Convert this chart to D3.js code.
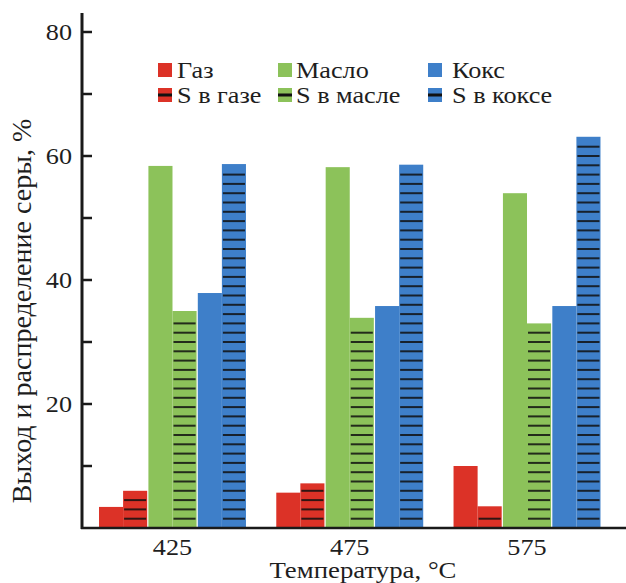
<!DOCTYPE html>
<html><head><meta charset="utf-8">
<script src="https://cdn.jsdelivr.net/npm/d3@7"></script>
<style>
body{margin:0;background:#fff;}
text{font-family:"Liberation Serif","Times New Roman",serif;fill:#1e1e1e;}
</style></head>
<body><svg id="c" width="626" height="583"></svg>
<script>
const temps = ["425","475","575"];
const materials = ["Газ","Масло","Кокс"];
const sLabels = ["S в газе","S в масле","S в коксе"];
const colors = ["#dc3227","#8cc25a","#3e7fc9"];
// yield values [Газ, Масло, Кокс] per temperature
const yieldVals = [[3.4, 58.4, 37.9],[5.7, 58.2, 35.8],[10.0, 54.0, 35.8]];
// sulfur distribution [S в газе, S в масле, S в коксе]
const sulfurVals = [[6.0, 35.0, 58.7],[7.2, 33.9, 58.6],[3.5, 33.0, 63.1]];
const yTicks = [0,20,40,60,80];
const yMinor = [10,30,50,70];
const stripeStep = 1.5;

const svg = d3.select("#c");
const STR = 1.14;
const y = d3.scaleLinear().domain([0,80]).range([528,32]);
const x0 = d3.scaleBand().domain(temps).range([82,617.5]).paddingInner(0.171).paddingOuter(0.096);
const x1 = d3.scaleBand().domain(materials).range([0,x0.bandwidth()]).paddingInner(0.025);

const g = svg.append("g");
temps.forEach((t,ti)=>{
  materials.forEach((m,mi)=>{
    const left = x0(t)+x1(m);
    const w = x1.bandwidth()/2;
    g.append("rect").attr("x",left).attr("y",y(yieldVals[ti][mi]))
      .attr("width",w).attr("height",y(0)-y(yieldVals[ti][mi])).attr("fill",colors[mi]);
    const v = sulfurVals[ti][mi];
    g.append("rect").attr("x",left+w).attr("y",y(v))
      .attr("width",w).attr("height",y(0)-y(v)).attr("fill",colors[mi]);
    const lines = d3.range(stripeStep, v-0.9, stripeStep);
    g.selectAll(null).data(lines).enter().append("line")
      .attr("x1",left+w+1).attr("x2",left+2*w-1)
      .attr("y1",d=>y(d)).attr("y2",d=>y(d))
      .attr("stroke","#111").attr("stroke-opacity",0.85).attr("stroke-width",2);
  });
});

// axes
const ax = svg.append("g");
ax.append("line").attr("x1",82).attr("x2",82).attr("y1",y(0)+1).attr("y2",13).attr("stroke","#1a1a1a").attr("stroke-width",3);
ax.append("line").attr("x1",81).attr("x2",626).attr("y1",y(0)).attr("y2",y(0)).attr("stroke","#1a1a1a").attr("stroke-width",2.5);
ax.selectAll(".tk").data(yTicks.concat(yMinor).filter(d=>d>0)).enter().append("line")
  .attr("x1",82).attr("x2",92).attr("y1",d=>y(d)).attr("y2",d=>y(d))
  .attr("stroke","#1a1a1a").attr("stroke-width",2.5);
ax.selectAll(".tl").data(yTicks.filter(d=>d>0)).enter().append("text")
  .attr("transform",d=>`translate(72,${y(d)}) scale(${STR},1)`)
  .attr("dy","0.35em").attr("text-anchor","end").style("font-size","23px").text(d=>d);
ax.selectAll(".xl").data(temps).enter().append("text")
  .attr("transform",d=>`translate(${x0(d)+x0.bandwidth()/2},555) scale(${STR},1)`)
  .attr("text-anchor","middle").style("font-size","23px").text(d=>d);
svg.append("text").attr("transform",`translate(363,578) scale(${STR},1)`)
  .attr("text-anchor","middle").style("font-size","23.5px").text("Температура, °C");
svg.append("text").attr("transform",`translate(31,311) rotate(-90)`)
  .attr("text-anchor","middle").style("font-size","28px").text("Выход и распределение серы, %");

// legend
const legX = [158,278,428], legTX=[177,296,452];
materials.forEach((m,i)=>{
  svg.append("rect").attr("x",legX[i]).attr("y",63).attr("width",14).attr("height",14).attr("fill",colors[i]);
  svg.append("text").attr("transform",`translate(${legTX[i]},78) scale(${STR},1)`).style("font-size","23px").text(m);
  svg.append("rect").attr("x",legX[i]).attr("y",88).attr("width",14).attr("height",14).attr("fill",colors[i]);
  svg.append("line").attr("x1",legX[i]).attr("x2",legX[i]+14).attr("y1",95).attr("y2",95).attr("stroke","#111").attr("stroke-width",3);
  svg.append("text").attr("transform",`translate(${legTX[i]},103) scale(${STR},1)`).style("font-size","23px").text(sLabels[i]);
});
</script></body></html>
